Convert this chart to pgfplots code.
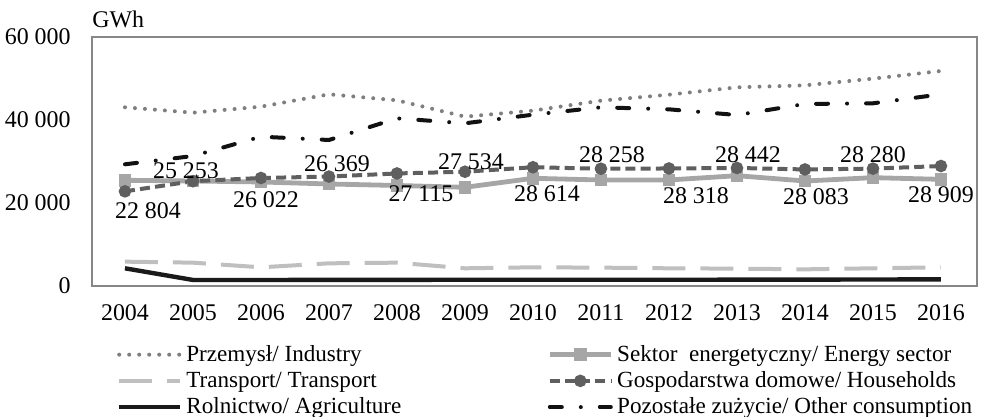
\documentclass[border=0pt]{standalone}
\usepackage{pgfplots}
\pgfplotsset{compat=1.18}
\usepackage{pgfplotstable}
\usepackage{fontspec}
\setmainfont{Liberation Serif}

\definecolor{cind}{HTML}{7F7F7F}
\definecolor{cene}{HTML}{A6A6A6}
\definecolor{ctra}{HTML}{BFBFBF}
\definecolor{chou}{HTML}{5F5F5F}
\definecolor{cagr}{HTML}{1A1A1A}
\definecolor{coth}{HTML}{111111}
\definecolor{cbox}{HTML}{878787}

\pgfplotstableread{
year ind   ene   tra  hou   agr  oth
2004 43060 25470 5860 22804 4260 29320
2005 41760 25300 5620 25253 1450 31320
2006 43210 25060 4500 26022 1450 35980
2007 46190 24580 5460 26369 1460 35180
2008 44740 24220 5620 27115 1480 40400
2009 40800 23780 4260 27534 1500 39200
2010 42250 25950 4500 28614 1500 41280
2011 44660 25540 4420 28258 1500 43060
2012 46100 25540 4260 28318 1500 42570
2013 47870 26580 4180 28442 1520 41200
2014 48350 25300 4010 28083 1540 43860
2015 49960 26100 4260 28280 1560 44020
2016 51810 25700 4500 28909 1600 46190
}\data

\pgfplotstableread[col sep=comma]{
year,val,lbl,dx,dy
2004,22804,22 804,11.5,-9.5
2005,25253,25 253,-3.5,5
2006,26022,26 022,2.5,-11
2007,26369,26 369,4,6.5
2008,27115,27 115,12,-10
2009,27534,27 534,3,5
2010,28614,28 614,7,-13
2011,28258,28 258,5.5,7
2012,28318,28 318,13.5,-13.5
2013,28442,28 442,5.5,6.5
2014,28083,28 083,5.5,-13.5
2015,28280,28 280,0,7
2016,28909,28 909,0,-14.5
}\labels

\begin{document}
\begin{tikzpicture}[font=\fontsize{12}{14}\selectfont]
\begin{axis}[
  scale only axis,
  width=442.5bp, height=124.5bp,
  xmin=2003.515, xmax=2016.53,
  ymin=0, ymax=60000,
  scaled y ticks=false,
  axis line style={cbox, line width=0.6bp},
  major tick length=0pt,
  xtick={2004,2005,...,2016},
  ytick={0,20000,40000,60000},
  yticklabels={0,20 000,40 000,60 000},
  /pgf/number format/.cd, 1000 sep={}, assume math mode=true, /pgfplots/.cd,
  yticklabel style={anchor=east, inner sep=0pt, xshift=-10.5bp},
  xticklabel style={anchor=north, inner sep=0pt, yshift=-9bp},
  legend columns=2,
  legend cell align=left,
  legend style={draw=none, fill=none, inner sep=0pt, outer sep=0pt,
    font=\fontsize{11.6}{13.5}\selectfont,
    anchor=north west, at={(axis description cs:0,0)}, xshift=12.5bp, yshift=-27.6bp,
    row sep=-0.4bp,
    /tikz/every even column/.append style={column sep=71bp}},
  legend image code/.code={\draw[mark repeat=2,mark phase=2,#1] plot coordinates {(0bp,0bp) (15.25bp,0bp) (30.5bp,0bp)};},
  clip=false,
]
\addplot[cind, line width=2bp, line cap=round, dash pattern=on 0bp off 5bp, no markers]
  table[x=year, y=ind] {\data};
\addlegendentry{Przemysł/ Industry}
\addplot[cene, line width=2.4bp, mark=square*, mark size=2bp, mark options={solid, fill=cene, draw=cene}]
  table[x=year, y=ene] {\data};
\addlegendentry{Sektor\ \ energetyczny/ Energy sector}
\addplot[ctra, line width=2bp, dash pattern=on 16.5bp off 7.5bp, no markers]
  table[x=year, y=tra] {\data};
\addlegendentry{Transport/ Transport}
\addplot[chou, line width=2bp, dash pattern=on 5bp off 2.6bp, mark=*, mark size=2.1bp, mark options={solid, fill=chou, draw=chou}]
  table[x=year, y=hou] {\data};
\addlegendentry{Gospodarstwa domowe/ Households}
\addplot[cagr, line width=2.2bp, no markers]
  table[x=year, y=agr] {\data};
\addlegendentry{Rolnictwo/ Agriculture}
\addplot[coth, line width=2bp, line cap=round, dash pattern=on 6bp off 9.5bp on 0bp off 9.5bp, no markers]
  table[x=year, y=oth] {\data};
\addlegendentry{Pozostałe zużycie/ Other consumption}

\addplot[draw=none, no markers, forget plot,
  point meta=explicit symbolic,
  visualization depends on={\thisrow{dx}\as\ldx},
  visualization depends on={\thisrow{dy}\as\ldy},
  nodes near coords,
  every node near coord/.append style={anchor=center, inner sep=0pt, text=black, xshift=\ldx bp, yshift=\ldy bp}]
  table[x=year, y=val, meta=lbl] {\labels};

\node[anchor=base west, inner sep=0pt] at (rel axis cs:0,1) [yshift=4.5bp] {GWh};
\coordinate (boxBL) at (rel axis cs:0,0);
\coordinate (boxTR) at (rel axis cs:1,1);
\end{axis}
\pgfresetboundingbox
\useasboundingbox ([shift={(-46bp,-65.5bp)}]boxBL) rectangle ([shift={(3.5bp,18.5bp)}]boxTR);
\end{tikzpicture}
\end{document}
